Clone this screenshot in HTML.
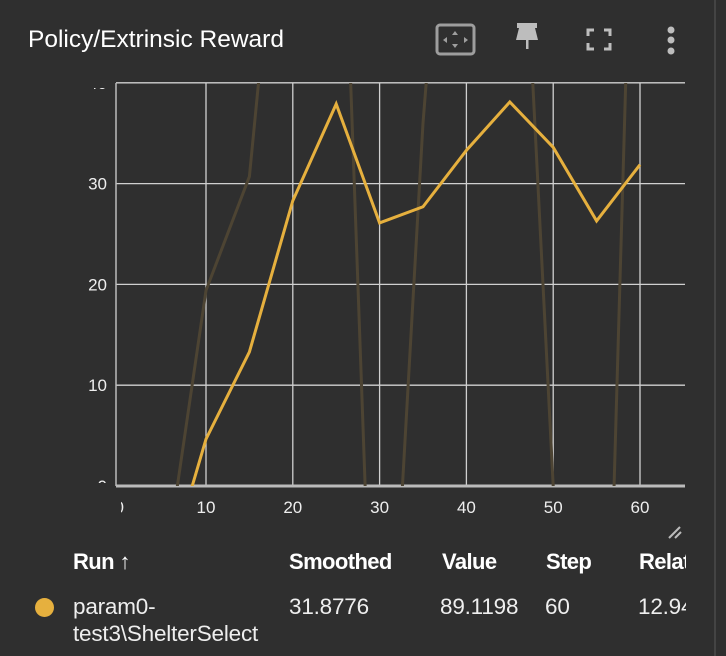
<!DOCTYPE html>
<html><head><meta charset="utf-8"><style>
html,body{margin:0;width:726px;height:656px;overflow:hidden}
body{background:#2f2f2f;font-family:"Liberation Sans",sans-serif;color:#fff;position:relative}
.abs{position:absolute}
.th{font-weight:bold;font-size:22px;top:549px;letter-spacing:-0.6px;line-height:26px}
.td{font-size:22.5px;color:#eee;letter-spacing:-0.2px;line-height:27px}
</style></head><body>
<div class="abs" style="left:28px;top:26px;font-size:24.5px;color:#fff">Policy/Extrinsic Reward</div>
<svg class="abs" style="left:0;top:0" width="726" height="656">
 <g fill="#9e9e9e">
  <rect x="437" y="25" width="37" height="29" rx="3" fill="none" stroke="#9e9e9e" stroke-width="3"/>
  <polygon points="455,31 452,35 458,35"/><polygon points="455,48 452,44 458,44"/>
  <polygon points="443,40 447,37 447,43"/><polygon points="468,40 464,37 464,43"/>
 </g>
 <g fill="#bdbdbd">
  <rect x="517" y="23" width="20" height="5"/><polygon points="519,28 535,28 538,40 516,40"/><rect x="526" y="40" width="2.5" height="9"/>
 </g>
 <g fill="none" stroke="#bdbdbd" stroke-width="3">
  <path d="M588,36V30h6M604,30h6v6M610,43v6h-6M594,49h-6v-6"/>
 </g>
 <g fill="#bdbdbd">
  <circle cx="671" cy="30" r="3.5"/><circle cx="671" cy="40" r="3.5"/><circle cx="671" cy="51" r="3.5"/>
 </g>
 <line x1="715" y1="0" x2="715" y2="656" stroke="#444" stroke-width="2"/>
 <g stroke="#bbb" stroke-width="2">
  <line x1="669" y1="538" x2="680" y2="527"/><line x1="675" y1="538" x2="681" y2="532"/>
 </g>
</svg>
<svg id="chart" class="abs" style="left:0;top:0" width="726" height="540"></svg>
<div class="abs th" style="left:73px">Run ↑</div>
<div class="abs th" style="left:289px">Smoothed</div>
<div class="abs th" style="left:442px">Value</div>
<div class="abs th" style="left:546px">Step</div>
<div class="abs th" style="left:639px;width:47px;overflow:hidden;white-space:nowrap">Relative</div>
<div class="abs" style="left:35px;top:598px;width:19px;height:19px;border-radius:50%;background:#e6b03e"></div>
<div class="abs td" style="left:73px;top:593px;white-space:nowrap">param0-<br>test3\ShelterSelect</div>
<div class="abs td" style="left:289px;top:593px">31.8776</div>
<div class="abs td" style="left:440px;top:593px">89.1198</div>
<div class="abs td" style="left:545px;top:593px">60</div>
<div class="abs td" style="left:638px;top:593px;width:48px;overflow:hidden;white-space:nowrap">12.94s</div>
<script>
const steps=[5,10,15,20,25,30,35,40,45,50,55,60];
const rawValues=[-10,19.4,30.7,75,80,-40,36,90,85,0,-60,89.12];
const smoothedValues=[-10,4.65,13.3,28.3,37.9,26.1,27.7,33.3,38.1,33.6,26.3,31.88];
const xTicks=[0,10,20,30,40,50,60];
const yTicks=[0,10,20,30,40];
const L=116,R=685,T=83,B=486;
const xs=v=>119.2+(v)*8.68;
const ys=v=>486-v*10.08;
const svg=document.getElementById('chart');
const NS='http://www.w3.org/2000/svg';
function mk(t,a){const e=document.createElementNS(NS,t);for(const k in a)e.setAttribute(k,a[k]);svg.appendChild(e);return e;}
const cp=mk('clipPath',{id:'cp'});
const r=document.createElementNS(NS,'rect');r.setAttribute('x',L);r.setAttribute('y',T);r.setAttribute('width',R-L);r.setAttribute('height',B-T);cp.appendChild(r);
const cy=mk('clipPath',{id:'cy'});
const r2=document.createElementNS(NS,'rect');r2.setAttribute('x',0);r2.setAttribute('y',88);r2.setAttribute('width',116);r2.setAttribute('height',395);cy.appendChild(r2);
const cx=mk('clipPath',{id:'cx'});
const r3=document.createElementNS(NS,'rect');r3.setAttribute('x',121);r3.setAttribute('y',490);r3.setAttribute('width',600);r3.setAttribute('height',40);cx.appendChild(r3);
xTicks.forEach(t=>{
 if(t>0){const g=mk('line',{x1:xs(t),x2:xs(t),y1:T,y2:B,stroke:'#d0d0d0','stroke-width':1.3});
 
 }
 const tx=mk('text',{x:xs(t),y:513,'text-anchor':'middle','font-size':17,fill:'#eee','clip-path':'url(#cx)'});tx.textContent=t;
 
 
});
yTicks.forEach(t=>{
 const g=mk('line',{x1:L,x2:R,y1:ys(t),y2:ys(t),stroke:'#d0d0d0','stroke-width':1.3});
 
 
 const tx=mk('text',{x:107,y:ys(t)+6,'text-anchor':'end','font-size':17,fill:'#eee','clip-path':'url(#cy)'});tx.textContent=t;
 
 
});
const ax=mk('line',{x1:L,x2:L,y1:T,y2:B,stroke:'#bbb','stroke-width':1.5});


const bx=mk('line',{x1:L,x2:R,y1:B,y2:B,stroke:'#bbb','stroke-width':3});


const pts=a=>steps.map((s,i)=>xs(s)+','+ys(a[i])).join(' ');
const raw=mk('polyline',{points:pts(rawValues),fill:'none',stroke:'#4d4433','stroke-width':3,'clip-path':'url(#cp)'});


const sm=mk('polyline',{points:pts(smoothedValues),fill:'none',stroke:'#e6b03e','stroke-width':3,'clip-path':'url(#cp)'});


</script>
</body></html>
